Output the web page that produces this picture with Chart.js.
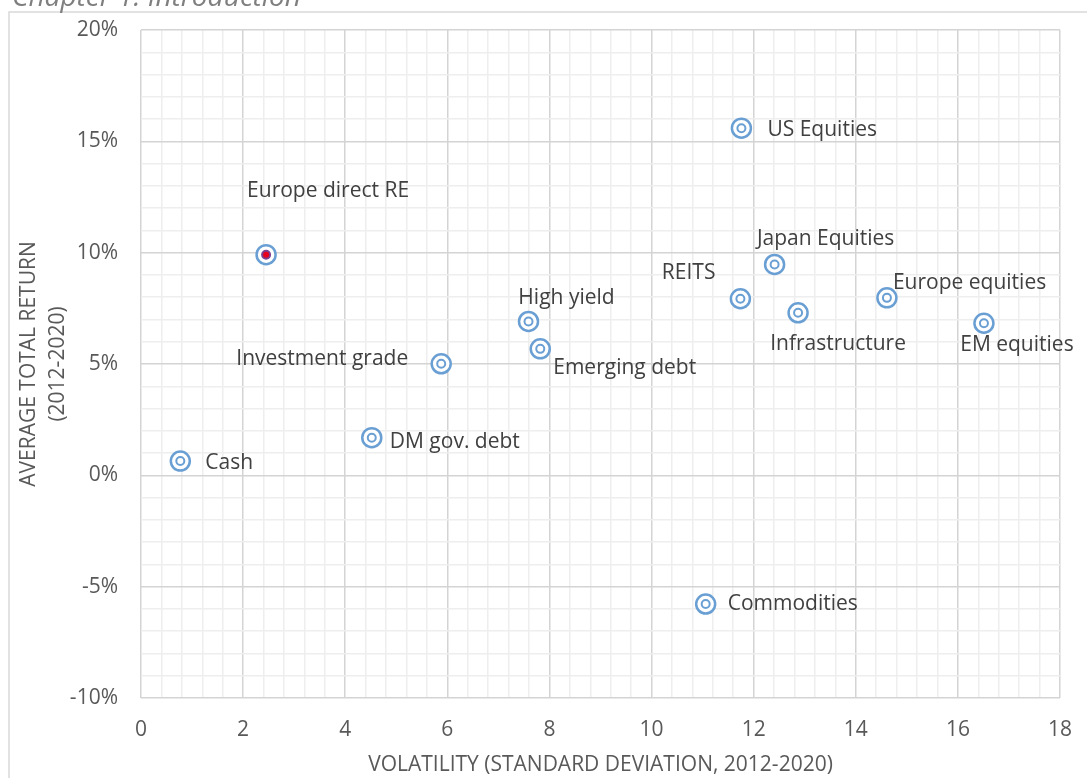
<!DOCTYPE html>
<html>
<head>
<meta charset="utf-8">
<script src="https://cdn.jsdelivr.net/npm/chart.js@4/dist/chart.umd.min.js"></script>
<style>
  body { margin: 0; background: #fff; }
  canvas { display: block; }
</style>
</head>
<body>
<canvas id="risk-return-chart" width="1087" height="778"></canvas>
<script>
// asset classes, volatility (x) and average total return in % (y)
const assetNames = ["Cash", "DM gov. debt", "Investment grade", "High yield", "Emerging debt",
  "Europe direct RE", "US Equities", "Japan Equities", "REITS", "Infrastructure",
  "Europe equities", "EM equities", "Commodities"];
const volatility = [0.77, 4.52, 5.88, 7.59, 7.82, 2.45, 11.76, 12.41, 11.74, 12.87, 14.61, 16.51, 11.06];
const avgReturn = [0.64, 1.69, 5.01, 6.91, 5.68, 9.91, 15.59, 9.47, 7.93, 7.30, 7.97, 6.83, -5.78];
const highlighted = "Europe direct RE";

const xTickLabels = [0, 2, 4, 6, 8, 10, 12, 14, 16, 18];
const yTickLabels = [-10, -5, 0, 5, 10, 15, 20];

// where each name goes relative to its marker: [dx, dy, textAlign]
const labelPlacement = [
  [25, 2, "left"], [18, 4, "left"], [-33, -5, "right"], [38, -23, "center"],
  [13, 19, "left"], [62, -64, "center"], [26, 2, "left"], [51, -25, "center"],
  [-25, -26, "right"], [40, 31, "center"], [6, -15, "left"], [33, 22, "center"],
  [22, 0, "left"]
];

const fontFamily = "'Open Sans', sans-serif";
const ringBlue = "#6a9fd4";
const points = volatility.map((v, i) => ({ x: v, y: avgReturn[i] }));

const isMajor = (v, step) => Math.abs(Math.round(v / step) * step - v) < 1e-6;

const frameAndLabels = {
  id: "frameAndLabels",
  beforeDraw(chart) {
    const c = chart.ctx;
    c.save();
    c.fillStyle = "#fff";
    c.fillRect(0, 0, chart.width, chart.height);
    c.strokeStyle = "#d9d9d9";
    c.lineWidth = 1.5;
    c.beginPath();
    c.moveTo(9, chart.height);
    c.lineTo(9, 12);
    c.lineTo(chart.width, 12);
    c.stroke();
    c.fillStyle = "#7f7f7f";
    c.font = "italic 28px " + fontFamily;
    c.textBaseline = "alphabetic";
    c.fillText("Chapter 1: Introduction", 12, 6);
    c.restore();
  },
  afterDatasetsDraw(chart) {
    const c = chart.ctx;
    const meta = chart.getDatasetMeta(0);
    c.save();
    c.fillStyle = "#404040";
    c.font = "21px " + fontFamily;
    c.textBaseline = "middle";
    meta.data.forEach((pt, i) => {
      const [dx, dy, align] = labelPlacement[i];
      c.textAlign = align;
      c.fillText(assetNames[i], pt.x + dx, pt.y + dy);
    });
    c.restore();
  }
};

const ctx = document.getElementById("risk-return-chart").getContext("2d");

new Chart(ctx, {
  type: "scatter",
  plugins: [frameAndLabels],
  data: {
    datasets: [
      {
        data: points,
        order: 1,
        pointRadius: 4,
        pointBorderWidth: 2,
        pointBorderColor: (c) => assetNames[c.dataIndex] === highlighted ? "#7d3f90" : ringBlue,
        pointBackgroundColor: (c) => assetNames[c.dataIndex] === highlighted ? "#e8001c" : "#fff",
        pointHoverRadius: 4,
      },
      {
        data: points,
        order: 2,
        pointRadius: 9.5,
        pointBorderWidth: 2.5,
        pointBorderColor: ringBlue,
        pointBackgroundColor: "#fff",
        pointHoverRadius: 9.5,
      },
    ],
  },
  options: {
    responsive: false,
    animation: false,
    layout: { autoPadding: false, padding: { top: 30, right: 27, left: 0, bottom: 0 } },
    plugins: {
      legend: { display: false },
      tooltip: { enabled: false },
    },
    scales: {
      x: {
        min: 0,
        max: 18,
        afterFit: (scale) => {
          scale.height = 80;
          scale.paddingLeft = 0;
          scale.paddingRight = 0;
        },
        ticks: {
          stepSize: 0.4,
          maxTicksLimit: 100,
          autoSkip: false,
          maxRotation: 0,
          padding: 19,
          color: "#595959",
          font: { family: fontFamily, size: 21 },
          callback: (v) => (isMajor(v, 2) && xTickLabels.includes(Math.round(v)) ? String(Math.round(v)) : ""),
        },
        grid: {
          drawTicks: false,
          color: (c) => (isMajor(c.tick.value, 2) ? "#d4d4d4" : "#eeeeee"),
          lineWidth: 1.5,
        },
        border: { display: false },
        title: {
          display: true,
          text: "VOLATILITY (STANDARD DEVIATION, 2012-2020)",
          color: "#595959",
          font: { family: fontFamily, size: 21 },
          padding: { top: 0, bottom: 0 },
        },
      },
      y: {
        min: -10,
        max: 20,
        afterFit: (scale) => {
          scale.width = 141;
          scale.paddingTop = 0;
          scale.paddingBottom = 0;
        },
        ticks: {
          stepSize: 1,
          maxTicksLimit: 100,
          autoSkip: false,
          padding: 23,
          color: "#595959",
          font: { family: fontFamily, size: 21 },
          callback: (v) => (isMajor(v, 5) && yTickLabels.includes(Math.round(v)) ? Math.round(v) + "%" : ""),
        },
        grid: {
          drawTicks: false,
          color: (c) => (isMajor(c.tick.value, 5) ? "#d4d4d4" : "#eeeeee"),
          lineWidth: 1.5,
        },
        border: { display: false },
        title: {
          display: true,
          text: ["AVERAGE TOTAL RETURN", "(2012-2020)"],
          color: "#595959",
          font: { family: fontFamily, size: 21, lineHeight: 1.36 },
          padding: { top: 15, bottom: 0 },
        },
      },
    },
  },
});
</script>
</body>
</html>
